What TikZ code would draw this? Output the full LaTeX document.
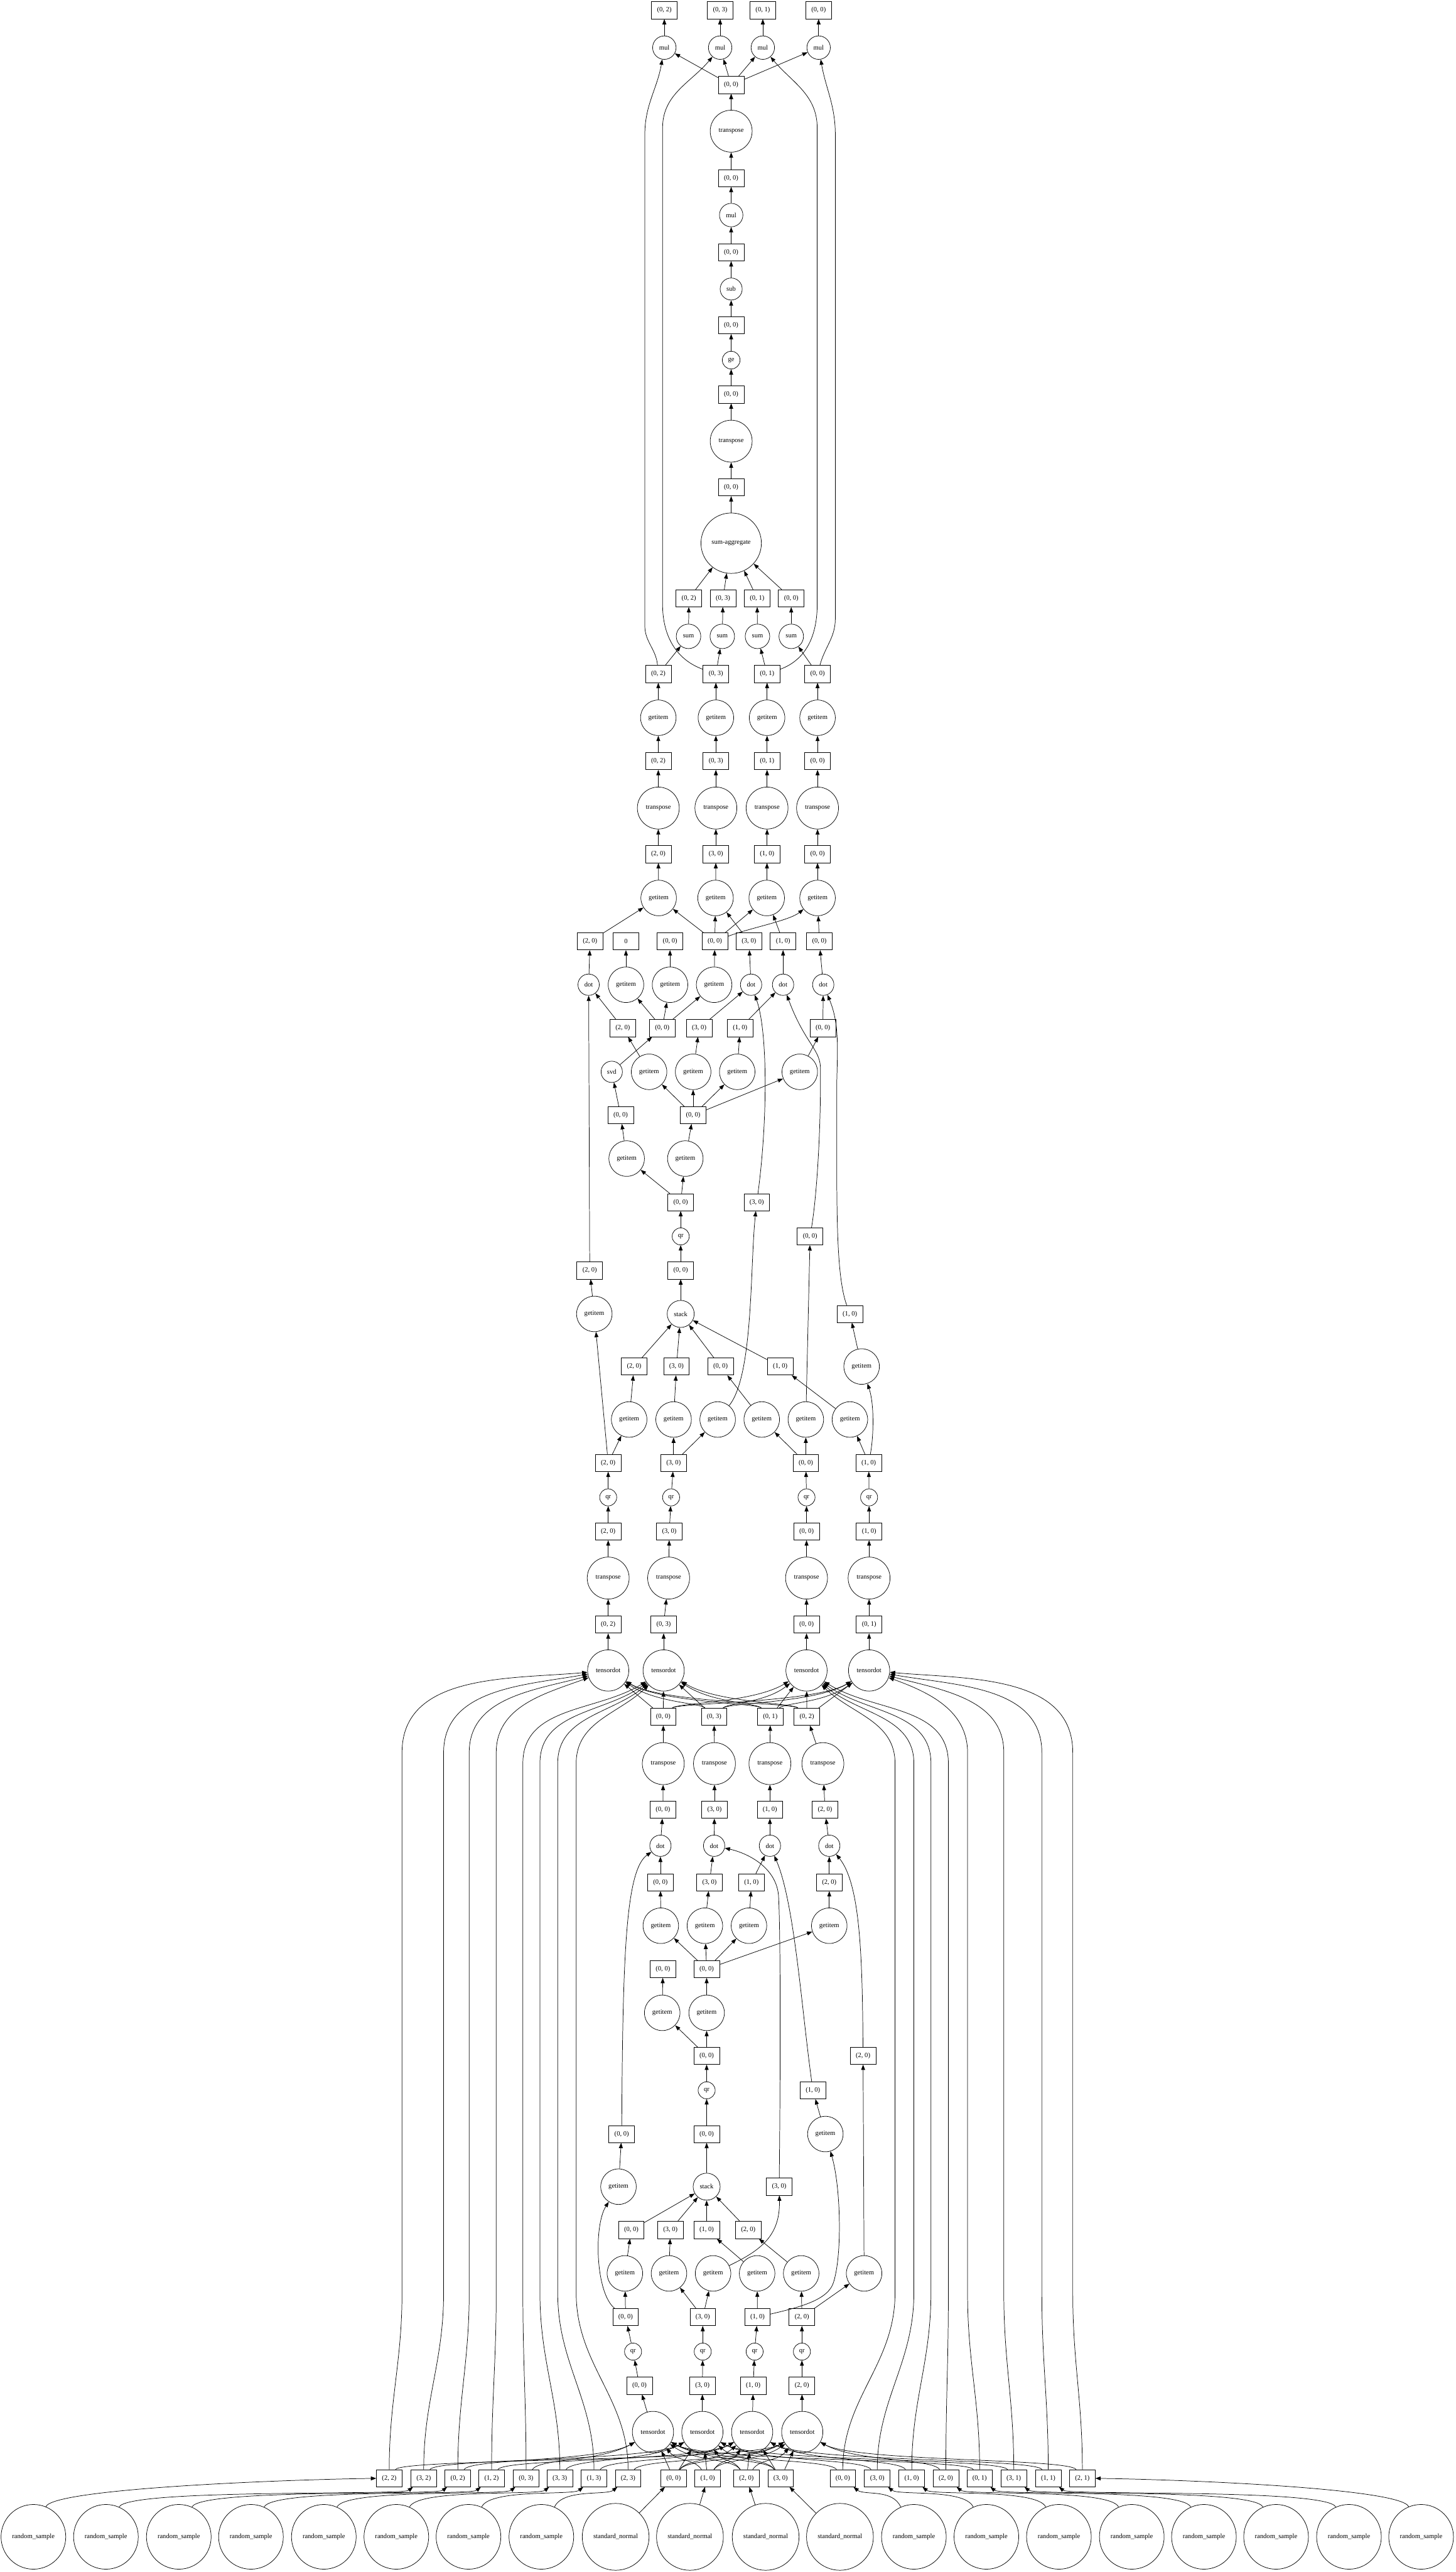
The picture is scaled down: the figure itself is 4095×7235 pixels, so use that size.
\documentclass[tikz,border=0pt]{standalone}
\usepackage{fontspec}
\setmainfont{Liberation Serif}
\usetikzlibrary{arrows.meta}
\tikzset{
  bx/.style={draw, rectangle, line width=1.3pt, minimum width=72pt, minimum height=48pt, inner sep=0pt},
  fn/.style={draw, circle, line width=1.3pt, minimum size=#1pt, inner sep=0pt},
  e/.style={line width=1.3pt, -{Triangle[length=15pt,width=11pt]}},
}
\newcommand\myB[4]{\node[bx] (#1) at (#2,#3) {#4};}
\newcommand\myF[5]{\node[fn=#4] (#1) at (#2,#3) {#5};}
\newcommand\myE[2]{\draw[e] (#1) -- (#2);}
\newcommand\myC[6]{%
  \pgfmathsetmacro\cedx{#4-#2}%
  \pgfmathsetmacro\ceoff{min(150,0.45*abs(\cedx))}%
  \ifdim\cedx pt>0pt
    \draw[e] (#1) .. controls (#2+40,#5) and (#4-\ceoff,#6) .. (#3);
  \else
    \draw[e] (#1) .. controls (#2-40,#5) and (#4+\ceoff,#6) .. (#3);
  \fi}
\newcommand\myL[5]{\draw[e] (#1) to[out=90,in=-90] (#2,6450) -- (#2,#3) to[out=90,in=#5] (#4);}
\newcommand\myR[4]{%
  \pgfmathsetmacro\rdx{#4-#2}%
  \ifdim\rdx pt>0pt
    \draw[e] (#1) .. controls (#2+60,7000) and (#4-60,7020) .. (#3);
  \else
    \draw[e] (#1) .. controls (#2-60,7000) and (#4+60,7020) .. (#3);
  \fi}
\begin{document}
\begin{tikzpicture}[x=1pt,y=-1pt,font=\fontsize{18.67}{22}\selectfont]
\fill[white] (0,0) rectangle (4095,7235);
\useasboundingbox (0,0) rectangle (4095,7235);
% ---------- top ----------
\myB{T1}{1869}{29}{(0, 2)}
\myB{T2}{2026}{29}{(0, 3)}
\myB{T3}{2146}{29}{(0, 1)}
\myB{T4}{2303}{29}{(0, 0)}
\myF{M1}{1869}{134}{66}{mul}
\myF{M2}{2026}{134}{66}{mul}
\myF{M3}{2146}{134}{66}{mul}
\myF{M4}{2303}{134}{66}{mul}
\myB{B1}{2057}{239}{(0, 0)}
\myF{TR1}{2057}{369}{118}{transpose}
\myB{B2}{2057}{501}{(0, 0)}
\myF{MU}{2057}{605}{66}{mul}
\myB{B3}{2057}{710}{(0, 0)}
\myF{SUB}{2057}{813}{62}{sub}
\myB{B4}{2057}{915}{(0, 0)}
\myF{GE}{2057}{1013}{50}{ge}
\myB{B5}{2057}{1110}{(0, 0)}
\myF{TR2}{2057}{1241}{118}{transpose}
\myB{B6}{2057}{1371}{(0, 0)}
\myF{SA}{2057}{1528}{170}{sum-aggregate}
\myB{SB1}{1938}{1683}{(0, 2)}
\myB{SB2}{2034}{1683}{(0, 3)}
\myB{SB3}{2130}{1683}{(0, 1)}
\myB{SB4}{2226}{1683}{(0, 0)}
\myF{SM1}{1937}{1790}{69}{sum}
\myF{SM2}{2032}{1790}{69}{sum}
\myF{SM3}{2131}{1790}{69}{sum}
\myF{SM4}{2226}{1790}{69}{sum}
\myB{C1}{1852}{1896}{(0, 2)}
\myB{C2}{2014}{1896}{(0, 3)}
\myB{C3}{2158}{1896}{(0, 1)}
\myB{C4}{2300}{1896}{(0, 0)}
\myF{G1}{1852}{2019}{100}{getitem}
\myF{G2}{2014}{2019}{100}{getitem}
\myF{G3}{2158}{2019}{100}{getitem}
\myF{G4}{2300}{2019}{100}{getitem}
\myB{D1}{1852}{2141}{(0, 2)}
\myB{D2}{2014}{2141}{(0, 3)}
\myB{D3}{2158}{2141}{(0, 1)}
\myB{D4}{2300}{2141}{(0, 0)}
\myF{TT1}{1852}{2273}{118}{transpose}
\myF{TT2}{2014}{2273}{118}{transpose}
\myF{TT3}{2158}{2273}{118}{transpose}
\myF{TT4}{2300}{2273}{118}{transpose}
\myB{E1}{1852}{2403}{(2, 0)}
\myB{E2}{2014}{2403}{(3, 0)}
\myB{E3}{2158}{2403}{(1, 0)}
\myB{E4}{2300}{2403}{(0, 0)}
\myF{F1}{1853}{2526}{100}{getitem}
\myF{F2}{2013}{2526}{100}{getitem}
\myF{F3}{2157}{2526}{100}{getitem}
\myF{F4}{2300}{2526}{100}{getitem}
\myB{H1}{1660}{2648}{(2, 0)}
\myB{H2}{1761}{2648}{0}
\myB{H3}{1885}{2648}{(0, 0)}
\myB{H4}{2011}{2648}{(0, 0)}
\myB{H5}{2107}{2648}{(3, 0)}
\myB{H6}{2203}{2648}{(1, 0)}
\myB{H7}{2305}{2648}{(0, 0)}
\myF{DT1}{1656}{2770}{60}{dot}
\myF{GA}{1761}{2770}{100}{getitem}
\myF{GB}{1885}{2770}{100}{getitem}
\myF{GC}{2009}{2770}{100}{getitem}
\myF{DT2}{2113}{2770}{60}{dot}
\myF{DT3}{2203}{2770}{60}{dot}
\myF{DT4}{2316}{2770}{60}{dot}
\myB{I1}{1752}{2892}{(2, 0)}
\myB{I2}{1863}{2892}{(0, 0)}
\myB{I3}{1967}{2892}{(3, 0)}
\myB{I4}{2082}{2892}{(1, 0)}
\myB{I5}{2315}{2892}{(0, 0)}
\myF{SVD}{1721}{3015}{60}{svd}
\myF{J1}{1826}{3015}{100}{getitem}
\myF{J2}{1950}{3015}{100}{getitem}
\myF{J3}{2074}{3015}{100}{getitem}
\myF{J4}{2250}{3015}{100}{getitem}
\myB{K1}{1746}{3137}{(0, 0)}
\myB{K2}{1950}{3137}{(0, 0)}
\myF{L1}{1763}{3259}{100}{getitem}
\myF{L2}{1928}{3259}{100}{getitem}
\myB{N1}{1915}{3382}{(0, 0)}
\myB{N2}{2129}{3382}{(3, 0)}
\myF{Q1}{1915}{3478}{48}{qr}
\myB{N3}{2279}{3478}{(0, 0)}
\myB{P1}{1659}{3574}{(2, 0)}
\myB{P2}{1915}{3574}{(0, 0)}
\myF{R1}{1672}{3696}{100}{getitem}
\myF{ST}{1915}{3696}{76}{stack}
\myB{P3}{2391}{3696}{(1, 0)}
\myB{U1}{1784}{3844}{(2, 0)}
\myB{U2}{1903}{3844}{(3, 0)}
\myB{U3}{2027}{3844}{(0, 0)}
\myB{U4}{2195}{3844}{(1, 0)}
\myF{R2}{2424}{3844}{100}{getitem}
\myF{V1}{1770}{3993}{100}{getitem}
\myF{V2}{1895}{3993}{100}{getitem}
\myF{V3}{2019}{3993}{100}{getitem}
\myF{V4}{2143}{3993}{100}{getitem}
\myF{V5}{2267}{3993}{100}{getitem}
\myF{V6}{2391}{3993}{100}{getitem}
\myB{W1}{1711}{4115}{(2, 0)}
\myB{W2}{1895}{4115}{(3, 0)}
\myB{W3}{2267}{4115}{(0, 0)}
\myB{W4}{2444}{4115}{(1, 0)}
\myF{X1}{1711}{4212}{48}{qr}
\myF{X2}{1888}{4212}{48}{qr}
\myF{X3}{2269}{4212}{48}{qr}
\myF{X4}{2445}{4212}{48}{qr}
\myB{Y1}{1711}{4308}{(2, 0)}
\myB{Y2}{1883}{4308}{(3, 0)}
\myB{Y3}{2269}{4308}{(0, 0)}
\myB{Y4}{2445}{4308}{(1, 0)}
\myF{Z1}{1711}{4439}{118}{transpose}
\myF{Z2}{1881}{4439}{118}{transpose}
\myF{Z3}{2269}{4439}{118}{transpose}
\myF{Z4}{2445}{4439}{118}{transpose}
\myB{AA1}{1711}{4570}{(0, 2)}
\myB{AA2}{1867}{4570}{(0, 3)}
\myB{AA3}{2269}{4570}{(0, 0)}
\myB{AA4}{2445}{4570}{(0, 1)}
\myF{UT1}{1711}{4699}{116}{tensordot}
\myF{UT2}{1867}{4699}{116}{tensordot}
\myF{UT3}{2269}{4699}{116}{tensordot}
\myF{UT4}{2445}{4699}{116}{tensordot}
\myB{HB1}{1866}{4829}{(0, 0)}
\myB{HB2}{2009}{4829}{(0, 3)}
\myB{HB3}{2167}{4829}{(0, 1)}
\myB{HB4}{2270}{4829}{(0, 2)}
\myF{QT1}{1866}{4961}{118}{transpose}
\myF{QT2}{2010}{4961}{118}{transpose}
\myF{QT3}{2166}{4961}{118}{transpose}
\myF{QT4}{2315}{4961}{118}{transpose}
\myB{AB1}{1865}{5091}{(0, 0)}
\myB{AB2}{2010}{5091}{(3, 0)}
\myB{AB3}{2166}{5091}{(1, 0)}
\myB{AB4}{2321}{5091}{(2, 0)}
\myF{DD1}{1858}{5192}{60}{dot}
\myF{DD2}{2009}{5192}{60}{dot}
\myF{DD3}{2166}{5192}{60}{dot}
\myF{DD4}{2333}{5192}{60}{dot}
\myB{AC1}{1858}{5295}{(0, 0)}
\myB{AC2}{1996}{5295}{(3, 0)}
\myB{AC3}{2114}{5295}{(1, 0)}
\myB{AC4}{2333}{5295}{(2, 0)}
\myF{AD1}{1859}{5417}{100}{getitem}
\myF{AD2}{1983}{5417}{100}{getitem}
\myF{AD3}{2107}{5417}{100}{getitem}
\myF{AD4}{2333}{5417}{100}{getitem}
\myB{AE1}{1865}{5539}{(0, 0)}
\myB{AE2}{1988}{5539}{(0, 0)}
\myF{AF1}{1863}{5662}{100}{getitem}
\myF{AF2}{1988}{5662}{100}{getitem}
\myB{AG1}{1988}{5783}{(0, 0)}
\myB{AG2}{2428}{5783}{(2, 0)}
\myF{QQ}{1988}{5880}{48}{qr}
\myB{AH}{2287}{5880}{(1, 0)}
\myB{AI1}{1749}{6003}{(0, 0)}
\myB{AI2}{1988}{6003}{(0, 0)}
\myF{GG}{2322}{6003}{100}{getitem}
\myF{GH}{1740}{6151}{100}{getitem}
\myF{ST2}{1988}{6151}{76}{stack}
\myB{AJ}{2192}{6151}{(3, 0)}
\myB{AK1}{1776}{6273}{(0, 0)}
\myB{AK2}{1886}{6273}{(3, 0)}
\myB{AK3}{1988}{6273}{(1, 0)}
\myB{AK4}{2105}{6273}{(2, 0)}
\myF{AL1}{1758}{6395}{100}{getitem}
\myF{AL2}{1882}{6395}{100}{getitem}
\myF{AL3}{2006}{6395}{100}{getitem}
\myF{AL4}{2130}{6395}{100}{getitem}
\myF{AL5}{2254}{6395}{100}{getitem}
\myF{AL6}{2431}{6395}{100}{getitem}
\myB{AM1}{1760}{6518}{(0, 0)}
\myB{AM2}{1977}{6518}{(3, 0)}
\myB{AM3}{2131}{6518}{(1, 0)}
\myB{AM4}{2256}{6518}{(2, 0)}
\myF{QB1}{1781}{6615}{48}{qr}
\myF{QB2}{1977}{6615}{48}{qr}
\myF{QB3}{2123}{6615}{48}{qr}
\myF{QB4}{2256}{6615}{48}{qr}
\myB{AN1}{1799}{6711}{(0, 0)}
\myB{AN2}{1976}{6711}{(3, 0)}
\myB{AN3}{2119}{6711}{(1, 0)}
\myB{AN4}{2256}{6711}{(2, 0)}
\myF{LT1}{1837}{6841}{116}{tensordot}
\myF{LT2}{1976}{6841}{116}{tensordot}
\myF{LT3}{2116}{6841}{116}{tensordot}
\myF{LT4}{2257}{6841}{116}{tensordot}
% bottom boxes
\myB{A22}{1095}{6971}{(2, 2)}
\myB{A32}{1192}{6971}{(3, 2)}
\myB{A02}{1288}{6971}{(0, 2)}
\myB{A12}{1383}{6971}{(1, 2)}
\myB{A03}{1480}{6971}{(0, 3)}
\myB{A33}{1575}{6971}{(3, 3)}
\myB{A13}{1671}{6971}{(1, 3)}
\myB{A23}{1767}{6971}{(2, 3)}
\myB{O0}{1895}{6971}{(0, 0)}
\myB{O1}{1991}{6971}{(1, 0)}
\myB{O2}{2100}{6971}{(2, 0)}
\myB{O3}{2196}{6971}{(3, 0)}
\myB{A00}{2371}{6971}{(0, 0)}
\myB{A30}{2468}{6971}{(3, 0)}
\myB{A10}{2565}{6971}{(1, 0)}
\myB{A20}{2661}{6971}{(2, 0)}
\myB{A01}{2756}{6971}{(0, 1)}
\myB{A31}{2852}{6971}{(3, 1)}
\myB{A11}{2949}{6971}{(1, 1)}
\myB{A21}{3045}{6971}{(2, 1)}
% bottom circles
\myF{RS1}{94}{7136}{182}{random\_sample}
\myF{RS2}{298}{7136}{182}{random\_sample}
\myF{RS3}{503}{7136}{182}{random\_sample}
\myF{RS4}{706}{7136}{182}{random\_sample}
\myF{RS5}{911}{7136}{182}{random\_sample}
\myF{RS6}{1115}{7136}{182}{random\_sample}
\myF{RS7}{1318}{7136}{182}{random\_sample}
\myF{RS8}{1523}{7136}{182}{random\_sample}
\myF{SN1}{1732}{7136}{188}{standard\_normal}
\myF{SN2}{1941}{7136}{188}{standard\_normal}
\myF{SN3}{2154}{7136}{188}{standard\_normal}
\myF{SN4}{2363}{7136}{188}{standard\_normal}
\myF{RS9}{2571}{7136}{182}{random\_sample}
\myF{RS10}{2775}{7136}{182}{random\_sample}
\myF{RS11}{2979}{7136}{182}{random\_sample}
\myF{RS12}{3184}{7136}{182}{random\_sample}
\myF{RS13}{3387}{7136}{182}{random\_sample}
\myF{RS14}{3590}{7136}{182}{random\_sample}
\myF{RS15}{3795}{7136}{182}{random\_sample}
\myF{RS16}{3998}{7136}{182}{random\_sample}
% ---------- edges: top ----------
\foreach \i in {1,...,4}{\myE{M\i}{T\i}\myE{B1}{M\i}}
\myE{TR1}{B1}\myE{B2}{TR1}\myE{MU}{B2}\myE{B3}{MU}\myE{SUB}{B3}\myE{B4}{SUB}
\myE{GE}{B4}\myE{B5}{GE}\myE{TR2}{B5}\myE{B6}{TR2}\myE{SA}{B6}
\foreach \i in {1,...,4}{\myE{SB\i}{SA}\myE{SM\i}{SB\i}\myE{C\i}{SM\i}\myE{G\i}{C\i}\myE{D\i}{G\i}\myE{TT\i}{D\i}\myE{E\i}{TT\i}\myE{F\i}{E\i}}
\draw[e] (C1) to[out=95,in=-90] (1814,1760) -- (1814,380) to[out=90,in=-100] (M1);
\draw[e] (C2) to[out=160,in=-90] (1864,1700) -- (1864,360) to[out=90,in=-130] (M2);
\draw[e] (C3) to[out=20,in=-90] (2299,1700) -- (2299,360) to[out=90,in=-50] (M3);
\draw[e] (C4) to[out=75,in=-90] (2350,1740) -- (2350,380) to[out=90,in=-80] (M4);
% ---------- middle ----------
\myE{H1}{F1}
\foreach \i in {1,...,3}{\myE{H4}{F\i}}
\draw[e] (H4) .. controls (2110,2610) and (2220,2590) .. (F4);
\myE{H5}{F2}\myE{H6}{F3}\myE{H7}{F4}
\myE{DT1}{H1}\myE{GA}{H2}\myE{GB}{H3}\myE{GC}{H4}\myE{DT2}{H5}\myE{DT3}{H6}\myE{DT4}{H7}
\myE{I1}{DT1}\myE{I2}{GA}\myE{I2}{GB}\myE{I2}{GC}\myE{I3}{DT2}\myE{I4}{DT3}\myE{I5}{DT4}
\myE{SVD}{I2}\myE{J1}{I1}\myE{J2}{I3}\myE{J3}{I4}\myE{J4}{I5}
\myE{K1}{SVD}
\foreach \i in {1,...,4}{\myE{K2}{J\i}}
\myE{L1}{K1}\myE{L2}{K2}
\myE{N1}{L1}\myE{N1}{L2}
\myE{Q1}{N1}\myE{P2}{Q1}\myE{ST}{P2}
\foreach \i in {1,...,4}{\myE{U\i}{ST}}
\myE{R1}{P1}\myE{P1}{DT1}
\myE{V1}{U1}\myE{V2}{U2}\myE{V4}{U3}\myE{V6}{U4}
\myE{R2}{P3}
\myE{W1}{V1}\myE{W1}{R1}\myE{W2}{V2}\myE{W2}{V3}\myE{W3}{V4}\myE{W3}{V5}\myE{W4}{V6}
\draw[e] (W4) .. controls (2458,4040) and (2460,3950) .. (R2);
\myE{V5}{N3}
\draw[e] (V3) .. controls (2120,3870) and (2110,3560) .. (N2);
\draw[e] (N2) .. controls (2160,3150) and (2160,2900) .. (DT2);
\draw[e] (N3) .. controls (2300,3350) and (2310,3150) .. (2308,3000) .. controls (2305,2950) and (2262,2930) .. (DT3);
\draw[e] (P3) .. controls (2356,3600) and (2354,3450) .. (2354,3250) -- (2354,3050) .. controls (2356,2950) and (2362,2880) .. (DT4);
\foreach \i in {1,...,4}{\myE{X\i}{W\i}\myE{Y\i}{X\i}\myE{Z\i}{Y\i}\myE{AA\i}{Z\i}\myE{UT\i}{AA\i}\myE{QT\i}{HB\i}\myE{AB\i}{QT\i}\myE{DD\i}{AB\i}\myE{AC\i}{DD\i}\myE{AD\i}{AC\i}\myE{AE2}{AD\i}\myE{AK\i}{ST2}\myE{QB\i}{AM\i}\myE{AN\i}{QB\i}\myE{LT\i}{AN\i}}
% hub
\myE{HB1}{UT1}\myE{HB1}{UT2}\myE{HB2}{UT2}\myE{HB3}{UT3}\myE{HB4}{UT3}\myE{HB4}{UT4}
\myC{HB1}{1866}{UT3}{2269}{4790}{4790}
\myC{HB1}{1866}{UT4}{2445}{4790}{4790}
\myC{HB2}{2009}{UT1}{1711}{4790}{4790}
\myC{HB2}{2009}{UT3}{2269}{4790}{4790}
\myC{HB2}{2009}{UT4}{2445}{4790}{4790}
\myC{HB3}{2167}{UT1}{1711}{4790}{4790}
\myC{HB3}{2167}{UT2}{1867}{4790}{4790}
\myC{HB3}{2167}{UT4}{2445}{4790}{4790}
\myC{HB4}{2270}{UT1}{1711}{4790}{4790}
\myC{HB4}{2270}{UT2}{1867}{4790}{4790}
% lower middle
\myE{AF1}{AE1}\myE{AF2}{AE2}\myE{AG1}{AF1}\myE{AG1}{AF2}\myE{QQ}{AG1}\myE{AI2}{QQ}\myE{ST2}{AI2}
\myE{GH}{AI1}\myE{GG}{AH}
\myE{AL1}{AK1}\myE{AL2}{AK2}\myE{AL4}{AK3}\myE{AL5}{AK4}
\myE{AM1}{AL1}\myE{AM2}{AL2}\myE{AM2}{AL3}\myE{AM3}{AL4}\myE{AM4}{AL5}\myE{AM4}{AL6}
\myE{AL6}{AG2}
\draw[e] (AM1) .. controls (1675,6450) and (1670,6260) .. (GH);
\draw[e] (AM3) .. controls (2250,6490) and (2330,6470) .. (2345,6420) .. controls (2370,6340) and (2365,6150) .. (GG);
\draw[e] (AL3) .. controls (2140,6330) and (2195,6290) .. (AJ);
\draw[e] (AI1) .. controls (1752,5500) and (1760,5260) .. (DD1);
\draw[e] (AJ) .. controls (2196,5800) and (2196,5420) .. (2190,5330) .. controls (2182,5250) and (2100,5212) .. (DD2);
\draw[e] (AH) .. controls (2255,5650) and (2235,5350) .. (DD3);
\draw[e] (AG2) .. controls (2426,5500) and (2420,5300) .. (DD4);
% ---------- bottom ----------
\myC{A22}{1095}{LT4}{2257}{6915}{6925}
\myC{A32}{1192}{LT2}{1976}{6915}{6925}
\myC{A02}{1288}{LT1}{1837}{6915}{6925}
\myC{A12}{1383}{LT3}{2116}{6915}{6925}
\myC{A03}{1480}{LT1}{1837}{6915}{6925}
\myC{A33}{1575}{LT2}{1976}{6915}{6925}
\myC{A13}{1671}{LT3}{2116}{6915}{6925}
\myC{A23}{1767}{LT4}{2257}{6915}{6925}
\myC{A00}{2371}{LT1}{1837}{6915}{6925}
\myC{A30}{2468}{LT2}{1976}{6915}{6925}
\myC{A10}{2565}{LT3}{2116}{6915}{6925}
\myC{A20}{2661}{LT4}{2257}{6915}{6925}
\myC{A01}{2756}{LT1}{1837}{6915}{6925}
\myC{A31}{2852}{LT2}{1976}{6915}{6925}
\myC{A11}{2949}{LT3}{2116}{6915}{6925}
\myC{A21}{3045}{LT4}{2257}{6915}{6925}
\myE{O0}{LT1}\myE{O0}{LT2}\myE{O1}{LT2}\myE{O2}{LT3}\myE{O3}{LT3}\myE{O3}{LT4}
\myC{O0}{1895}{LT3}{2116}{6915}{6925}
\myC{O0}{1895}{LT4}{2257}{6915}{6925}
\myC{O1}{1991}{LT1}{1837}{6915}{6925}
\myC{O1}{1991}{LT3}{2116}{6915}{6925}
\myC{O1}{1991}{LT4}{2257}{6915}{6925}
\myC{O2}{2100}{LT1}{1837}{6915}{6925}
\myC{O2}{2100}{LT2}{1976}{6915}{6925}
\myC{O2}{2100}{LT4}{2257}{6915}{6925}
\myC{O3}{2196}{LT1}{1837}{6915}{6925}
\myC{O3}{2196}{LT2}{1976}{6915}{6925}
% long A -> upper tensordot
\myL{A22}{1131}{4930}{UT1}{185}
\myL{A32}{1248}{4930}{UT1}{190}
\myL{A02}{1320}{4930}{UT1}{195}
\myL{A12}{1396}{4930}{UT1}{200}
\myL{A03}{1471}{4960}{UT2}{212}
\myL{A33}{1519}{4960}{UT2}{216}
\myL{A13}{1569}{4960}{UT2}{220}
\myL{A23}{1621}{4960}{UT2}{224}
\myL{A00}{2518}{4960}{UT3}{-44}
\myL{A30}{2571}{4960}{UT3}{-40}
\myL{A10}{2619}{4960}{UT3}{-36}
\myL{A20}{2668}{4960}{UT3}{-32}
\myL{A01}{2722}{4930}{UT4}{-20}
\myL{A31}{2824}{4930}{UT4}{-15}
\myL{A11}{2931}{4930}{UT4}{-10}
\myL{A21}{3018}{4930}{UT4}{-5}
% sources
\draw[e] (RS1) .. controls (150,7000) and (800,6975) .. (A22);
\myR{RS2}{298}{A32}{1192}
\myR{RS3}{503}{A02}{1288}
\myR{RS4}{706}{A12}{1383}
\myR{RS5}{911}{A03}{1480}
\myR{RS6}{1115}{A33}{1575}
\myR{RS7}{1318}{A13}{1671}
\myR{RS8}{1523}{A23}{1767}
\myE{SN1}{O0}\myE{SN2}{O1}\myE{SN3}{O2}\myE{SN4}{O3}
\myR{RS9}{2571}{A00}{2371}
\myR{RS10}{2775}{A30}{2468}
\myR{RS11}{2979}{A10}{2565}
\myR{RS12}{3184}{A20}{2661}
\myR{RS13}{3387}{A01}{2756}
\myR{RS14}{3590}{A31}{2852}
\myR{RS15}{3795}{A11}{2949}
\draw[e] (RS16) .. controls (3942,7000) and (3340,6975) .. (A21);
\end{tikzpicture}
\end{document}
